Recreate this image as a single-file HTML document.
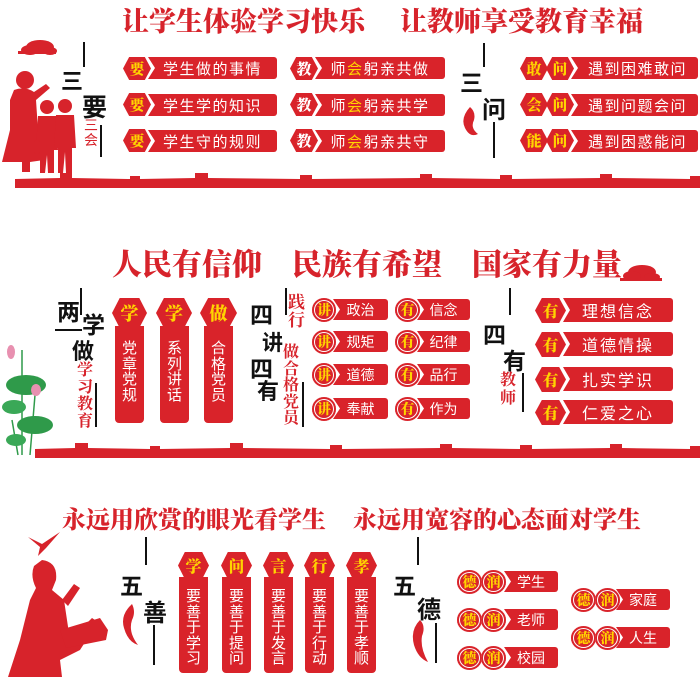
<!DOCTYPE html>
<html><head><meta charset="utf-8"><style>
*{margin:0;padding:0;box-sizing:border-box}
body{width:700px;height:677px;background:#fff;position:relative;overflow:hidden;font-family:"Liberation Sans","Noto Sans CJK SC",sans-serif}
.a{position:absolute}
.t{position:absolute;font-family:"Liberation Serif","Noto Serif CJK SC",serif;font-weight:900;color:#d7232b;white-space:nowrap}
.hx{position:absolute;background:#d9232a;clip-path:polygon(22% 0,78% 0,100% 50%,78% 100%,22% 100%,0 50%);color:#ffd400;font-family:"Liberation Serif","Noto Serif CJK SC",serif;font-weight:900;display:flex;align-items:center;justify-content:center}
.bar{position:absolute;background:#d9232a;color:#fff;clip-path:polygon(0 0,100% 0,100% 100%,0 100%,7px 50%);display:flex;align-items:center;justify-content:center;white-space:nowrap;border-radius:0 3px 3px 0}
.ci{position:absolute;background:#d9232a;border-radius:50%;color:#ffd400;font-family:"Liberation Serif","Noto Serif CJK SC",serif;font-weight:900;display:flex;align-items:center;justify-content:center;box-shadow:inset 0 0 0 2px #d9232a,inset 0 0 0 3px #fff}
.vb{position:absolute;background:#d9232a;color:#fff;border-radius:0 0 4px 4px;text-align:center}
.k{position:absolute;color:#111;font-weight:bold;font-family:"Liberation Sans","Noto Sans CJK SC",sans-serif}
.r{position:absolute;color:#d7232b;font-weight:bold;font-family:"Liberation Serif","Noto Serif CJK SC",serif}
.ln{position:absolute;background:#111;width:2px}
.y{color:#ffd400}
</style></head><body>

<!-- SECTION 1 -->
<div class="t" style="left:122px;top:0px;font-size:27px;letter-spacing:0px">让学生体验学习快乐</div>
<div class="t" style="left:400px;top:0px;font-size:27px">让教师享受教育幸福</div>

<svg class="a" style="left:0;top:0" width="700" height="677">
 <g fill="#d7232b">
  <!-- cloud top-left -->
  <ellipse cx="40" cy="47" rx="14" ry="7"/><ellipse cx="30" cy="50" rx="9" ry="5"/><ellipse cx="50" cy="51" rx="7" ry="4"/><rect x="18" y="51" width="38" height="3"/>
  <!-- woman -->
  <circle cx="25" cy="80" r="9"/>
  <path d="M14 90 Q25 86 34 92 L46 84 L50 88 L36 100 L38 130 L44 160 L30 162 L30 172 L22 172 L22 162 L2 162 L10 130 L10 100 Z"/>
  <!-- kids -->
  <circle cx="47" cy="107" r="7"/><path d="M38 116 L56 116 L58 150 L54 150 L54 173 L48 173 L47 155 L45 173 L40 173 L40 150 L36 150 Z"/>
  <rect x="34" y="140" width="6" height="14" rx="2"/>
  <circle cx="65" cy="106" r="7"/><path d="M56 115 L74 115 L76 148 L72 148 L72 173 L66 173 L65 152 L63 173 L58 173 L58 148 L54 148 Z"/>
  <!-- cloud near 三问 -->
  <path d="M470 107 Q460 118 465 128 Q470 138 478 134 Q470 128 474 120 Q476 112 470 107 Z"/>
  <!-- cloud s2 -->
  <ellipse cx="642" cy="272" rx="14" ry="7"/><ellipse cx="632" cy="276" rx="9" ry="5"/><ellipse cx="652" cy="277" rx="8" ry="4"/><rect x="620" y="278" width="42" height="3"/>
  <!-- bird -->
  <path d="M28 537 L42 544 L60 532 L46 548 L38 556 L40 547 Z"/>
  <!-- person s3 -->
  <path d="M42 560 Q58 562 56 580 L52 590 L64 600 L70 640 L92 618 L98 622 L80 650 L60 660 L62 677 L8 677 L20 640 L30 600 L36 588 Q30 576 34 566 Z"/>
  <path d="M62 600 L74 584 L80 588 L68 606 Z"/>
  <path d="M60 630 L100 618 L108 630 L106 640 L66 648 Z"/>
  <!-- ornaments s3 -->
  <path d="M132 604 Q120 615 124 628 Q128 642 138 645 Q128 632 132 620 Q136 612 132 604 Z"/>
  <path d="M420 620 Q410 630 414 645 Q418 658 428 662 Q420 648 422 636 Q426 626 420 620 Z"/>
 </g>
 <!-- walls -->
 <g fill="#d7232b">
  <rect x="15" y="182" width="685" height="6"/>
  <path d="M15 183 L15 179 L60 178 L60 173 L72 173 L72 178 L130 179 L130 176 L140 176 L140 179 L195 178 L195 173 L208 173 L208 178 L300 179 L300 175 L312 175 L312 179 L420 178 L420 174 L432 174 L432 178 L500 179 L500 175 L512 175 L512 179 L600 178 L600 174 L612 174 L612 178 L690 179 L690 176 L700 176 L700 183 Z"/>
  <rect x="35" y="452" width="665" height="6"/>
  <path d="M35 453 L35 449 L75 448 L75 443 L88 443 L88 448 L150 449 L150 446 L160 446 L160 449 L230 448 L230 443 L243 443 L243 448 L330 449 L330 445 L342 445 L342 449 L440 448 L440 444 L452 444 L452 448 L520 449 L520 445 L532 445 L532 449 L610 448 L610 444 L622 444 L622 448 L690 449 L690 446 L700 446 L700 453 Z"/>
 </g>
 <!-- lotus -->
 <g>
  <path d="M22 350 L22 455 M35 395 L30 455 M12 420 L18 455" stroke="#2f9a4a" stroke-width="1.5" fill="none"/>
  <ellipse cx="26" cy="385" rx="20" ry="10" fill="#2f9a4a"/>
  <ellipse cx="35" cy="425" rx="18" ry="9" fill="#2f9a4a"/>
  <ellipse cx="14" cy="407" rx="12" ry="7" fill="#3aa857"/>
  <ellipse cx="16" cy="440" rx="10" ry="6" fill="#3aa857"/>
  <ellipse cx="11" cy="352" rx="4" ry="7" fill="#e890b0"/>
  <ellipse cx="36" cy="390" rx="5" ry="6" fill="#e890b0"/>
 </g>
</svg>

<!-- 三要三会 -->
<div class="ln" style="left:83px;top:42px;height:25px"></div>
<div class="k" style="left:61px;top:64px;font-size:22px">三</div>
<div class="k" style="left:82px;top:88px;font-size:25px">要</div>
<div class="r" style="left:84px;top:118px;font-size:14px;line-height:15px;font-weight:normal;font-family:'Liberation Sans','Noto Sans CJK SC',sans-serif">三<br>会</div>
<div class="ln" style="left:100px;top:125px;height:32px"></div>

<!-- col1 -->
<div class="hx" style="left:123px;top:57px;width:28px;height:23px;font-size:15px">要</div>
<div class="bar" style="left:148px;top:57px;width:129px;height:22px;font-size:15px;letter-spacing:1.5px">学生做的事情</div>
<div class="hx" style="left:123px;top:93px;width:28px;height:23px;font-size:15px">要</div>
<div class="bar" style="left:148px;top:94px;width:129px;height:22px;font-size:15px;letter-spacing:1.5px">学生学的知识</div>
<div class="hx" style="left:123px;top:129px;width:28px;height:23px;font-size:15px">要</div>
<div class="bar" style="left:148px;top:130px;width:129px;height:22px;font-size:15px;letter-spacing:1.5px">学生守的规则</div>
<!-- col2 -->
<div class="hx" style="left:290px;top:57px;width:28px;height:23px;font-size:15px;color:#fff">教</div>
<div class="bar" style="left:315px;top:57px;width:130px;height:22px;font-size:15px;letter-spacing:1.5px">师<span class="y">会</span>躬亲共做</div>
<div class="hx" style="left:290px;top:93px;width:28px;height:23px;font-size:15px;color:#fff">教</div>
<div class="bar" style="left:315px;top:94px;width:130px;height:22px;font-size:15px;letter-spacing:1.5px">师<span class="y">会</span>躬亲共学</div>
<div class="hx" style="left:290px;top:129px;width:28px;height:23px;font-size:15px;color:#fff">教</div>
<div class="bar" style="left:315px;top:130px;width:130px;height:22px;font-size:15px;letter-spacing:1.5px">师<span class="y">会</span>躬亲共守</div>

<!-- 三问 -->
<div class="ln" style="left:483px;top:43px;height:24px"></div>
<div class="k" style="left:460px;top:64px;font-size:23px">三</div>
<div class="k" style="left:482px;top:90px;font-size:24px">问</div>
<div class="ln" style="left:493px;top:122px;height:36px"></div>

<div class="hx" style="left:520px;top:57px;width:28px;height:23px;font-size:15px">敢</div>
<div class="hx" style="left:546px;top:57px;width:28px;height:23px;font-size:15px">问</div>
<div class="bar" style="left:571px;top:57px;width:127px;height:22px;font-size:15px;letter-spacing:1.5px;padding-left:6px">遇到困难敢问</div>
<div class="hx" style="left:520px;top:93px;width:28px;height:23px;font-size:15px">会</div>
<div class="hx" style="left:546px;top:93px;width:28px;height:23px;font-size:15px">问</div>
<div class="bar" style="left:571px;top:94px;width:127px;height:22px;font-size:15px;letter-spacing:1.5px;padding-left:6px">遇到问题会问</div>
<div class="hx" style="left:520px;top:129px;width:28px;height:23px;font-size:15px">能</div>
<div class="hx" style="left:546px;top:129px;width:28px;height:23px;font-size:15px">问</div>
<div class="bar" style="left:571px;top:130px;width:127px;height:22px;font-size:15px;letter-spacing:1.5px;padding-left:6px">遇到困惑能问</div>

<!-- SECTION 2 -->
<div class="t" style="left:112px;top:240px;font-size:30px">人民有信仰</div>
<div class="t" style="left:292px;top:240px;font-size:30px">民族有希望</div>
<div class="t" style="left:472px;top:240px;font-size:30px">国家有力量</div>

<div class="ln" style="left:80px;top:288px;height:27px"></div>
<div class="k" style="left:57px;top:293px;font-size:23px">两</div>
<div class="a" style="left:55px;top:329px;width:27px;height:2px;background:#111"></div>
<div class="k" style="left:82px;top:306px;font-size:23px">学</div>
<div class="k" style="left:72px;top:334px;font-size:22px">做</div>
<div class="r" style="left:77px;top:362px;font-size:16px;line-height:17px">学<br>习<br>教<br>育</div>
<div class="ln" style="left:95px;top:383px;height:44px"></div>

<div class="hx" style="left:112px;top:298px;width:35px;height:30px;font-size:18px">学</div>
<div class="vb" style="left:115px;top:326px;width:29px;height:97px;font-size:15px;line-height:15.5px;padding-top:15px">党<br>章<br>党<br>规</div>
<div class="hx" style="left:156px;top:298px;width:36px;height:30px;font-size:18px">学</div>
<div class="vb" style="left:160px;top:326px;width:29px;height:97px;font-size:15px;line-height:15.5px;padding-top:15px">系<br>列<br>讲<br>话</div>
<div class="hx" style="left:200px;top:298px;width:37px;height:30px;font-size:18px">做</div>
<div class="vb" style="left:204px;top:326px;width:29px;height:97px;font-size:15px;line-height:15.5px;padding-top:15px">合<br>格<br>党<br>员</div>

<div class="k" style="left:250px;top:296px;font-size:23px">四</div>
<div class="k" style="left:262px;top:327px;font-size:21px">讲</div>
<div class="k" style="left:250px;top:350px;font-size:23px">四</div>
<div class="k" style="left:257px;top:374px;font-size:22px">有</div>
<div class="ln" style="left:285px;top:288px;height:27px"></div>
<div class="r" style="left:288px;top:294px;font-size:17px;line-height:18px">践<br>行</div>
<div class="r" style="left:283px;top:345px;font-size:16px;line-height:16.5px">做<br>合<br>格<br>党<br>员</div>
<div class="ln" style="left:302px;top:382px;height:45px"></div>

<div class="ci" style="left:312px;top:298px;width:24px;height:24px;font-size:14px">讲</div>
<div class="bar" style="left:333px;top:299px;width:55px;height:21px;font-size:14px">政治</div>
<div class="ci" style="left:395px;top:298px;width:25px;height:24px;font-size:14px">有</div>
<div class="bar" style="left:417px;top:299px;width:53px;height:21px;font-size:14px">信念</div>
<div class="ci" style="left:312px;top:330px;width:24px;height:24px;font-size:14px">讲</div>
<div class="bar" style="left:333px;top:331px;width:55px;height:21px;font-size:14px">规矩</div>
<div class="ci" style="left:395px;top:330px;width:25px;height:24px;font-size:14px">有</div>
<div class="bar" style="left:417px;top:331px;width:53px;height:21px;font-size:14px">纪律</div>
<div class="ci" style="left:312px;top:363px;width:24px;height:24px;font-size:14px">讲</div>
<div class="bar" style="left:333px;top:364px;width:55px;height:21px;font-size:14px">道德</div>
<div class="ci" style="left:395px;top:363px;width:25px;height:24px;font-size:14px">有</div>
<div class="bar" style="left:417px;top:364px;width:53px;height:21px;font-size:14px">品行</div>
<div class="ci" style="left:312px;top:397px;width:24px;height:24px;font-size:14px">讲</div>
<div class="bar" style="left:333px;top:398px;width:55px;height:21px;font-size:14px">奉献</div>
<div class="ci" style="left:395px;top:397px;width:25px;height:24px;font-size:14px">有</div>
<div class="bar" style="left:417px;top:398px;width:53px;height:21px;font-size:14px">作为</div>

<div class="ln" style="left:509px;top:288px;height:27px"></div>
<div class="k" style="left:483px;top:316px;font-size:23px">四</div>
<div class="k" style="left:503px;top:342px;font-size:23px">有</div>
<div class="r" style="left:500px;top:372px;font-size:16px;line-height:18px">教<br>师</div>
<div class="ln" style="left:522px;top:373px;height:39px"></div>

<div class="hx" style="left:535px;top:298px;width:31px;height:25px;font-size:16px">有</div>
<div class="bar" style="left:563px;top:298px;width:110px;height:24px;font-size:16px;letter-spacing:2px">理想信念</div>
<div class="hx" style="left:535px;top:332px;width:31px;height:25px;font-size:16px">有</div>
<div class="bar" style="left:563px;top:332px;width:110px;height:24px;font-size:16px;letter-spacing:2px">道德情操</div>
<div class="hx" style="left:535px;top:367px;width:31px;height:25px;font-size:16px">有</div>
<div class="bar" style="left:563px;top:367px;width:110px;height:24px;font-size:16px;letter-spacing:2px">扎实学识</div>
<div class="hx" style="left:535px;top:400px;width:31px;height:25px;font-size:16px">有</div>
<div class="bar" style="left:563px;top:400px;width:110px;height:24px;font-size:16px;letter-spacing:2px">仁爱之心</div>

<!-- SECTION 3 -->
<div class="t" style="left:62px;top:500px;font-size:24px">永远用欣赏的眼光看学生</div>
<div class="t" style="left:353px;top:500px;font-size:24px">永远用宽容的心态面对学生</div>

<div class="ln" style="left:145px;top:537px;height:28px"></div>
<div class="k" style="left:120px;top:567px;font-size:23px">五</div>
<div class="k" style="left:143px;top:593px;font-size:24px">善</div>
<div class="ln" style="left:153px;top:625px;height:40px"></div>

<div class="hx" style="left:178px;top:552px;width:31px;height:27px;font-size:16px">学</div>
<div class="vb" style="left:179px;top:577px;width:29px;height:96px;font-size:15px;line-height:15.5px;padding-top:12px">要<br>善<br>于<br>学<br>习</div>
<div class="hx" style="left:221px;top:552px;width:31px;height:27px;font-size:16px">问</div>
<div class="vb" style="left:222px;top:577px;width:29px;height:96px;font-size:15px;line-height:15.5px;padding-top:12px">要<br>善<br>于<br>提<br>问</div>
<div class="hx" style="left:263px;top:552px;width:31px;height:27px;font-size:16px">言</div>
<div class="vb" style="left:264px;top:577px;width:29px;height:96px;font-size:15px;line-height:15.5px;padding-top:12px">要<br>善<br>于<br>发<br>言</div>
<div class="hx" style="left:304px;top:552px;width:31px;height:27px;font-size:16px">行</div>
<div class="vb" style="left:305px;top:577px;width:29px;height:96px;font-size:15px;line-height:15.5px;padding-top:12px">要<br>善<br>于<br>行<br>动</div>
<div class="hx" style="left:346px;top:552px;width:31px;height:27px;font-size:16px">孝</div>
<div class="vb" style="left:347px;top:577px;width:29px;height:96px;font-size:15px;line-height:15.5px;padding-top:12px">要<br>善<br>于<br>孝<br>顺</div>

<div class="ln" style="left:417px;top:537px;height:28px"></div>
<div class="k" style="left:393px;top:567px;font-size:23px">五</div>
<div class="k" style="left:417px;top:590px;font-size:24px">德</div>
<div class="ln" style="left:435px;top:623px;height:40px"></div>

<div class="ci" style="left:457px;top:570px;width:25px;height:24px;font-size:14px">德</div>
<div class="ci" style="left:481px;top:570px;width:25px;height:24px;font-size:14px">润</div>
<div class="bar" style="left:504px;top:571px;width:54px;height:21px;font-size:14px">学生</div>
<div class="ci" style="left:457px;top:608px;width:25px;height:24px;font-size:14px">德</div>
<div class="ci" style="left:481px;top:608px;width:25px;height:24px;font-size:14px">润</div>
<div class="bar" style="left:504px;top:609px;width:54px;height:21px;font-size:14px">老师</div>
<div class="ci" style="left:457px;top:646px;width:25px;height:24px;font-size:14px">德</div>
<div class="ci" style="left:481px;top:646px;width:25px;height:24px;font-size:14px">润</div>
<div class="bar" style="left:504px;top:647px;width:54px;height:21px;font-size:14px">校园</div>

<div class="ci" style="left:571px;top:588px;width:25px;height:24px;font-size:14px">德</div>
<div class="ci" style="left:595px;top:588px;width:25px;height:24px;font-size:14px">润</div>
<div class="bar" style="left:616px;top:589px;width:54px;height:21px;font-size:14px">家庭</div>
<div class="ci" style="left:571px;top:626px;width:25px;height:24px;font-size:14px">德</div>
<div class="ci" style="left:595px;top:626px;width:25px;height:24px;font-size:14px">润</div>
<div class="bar" style="left:616px;top:627px;width:54px;height:21px;font-size:14px">人生</div>

</body></html>
